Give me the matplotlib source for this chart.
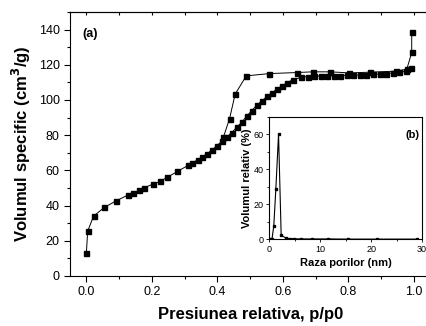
import matplotlib
matplotlib.use('Agg')
import matplotlib.pyplot as plt
from matplotlib.ticker import MultipleLocator

plt.rcParams['font.family'] = ['Liberation Sans', 'DejaVu Sans']

# isotherm, adsorption branch
ads_p = [0.0, 0.004, 0.022, 0.055, 0.091, 0.127, 0.142, 0.16, 0.175, 0.203,
         0.225, 0.246, 0.278, 0.31, 0.322, 0.34, 0.353, 0.368, 0.383, 0.398,
         0.414, 0.429, 0.444, 0.459, 0.475, 0.49, 0.505, 0.52, 0.536, 0.551,
         0.566, 0.581, 0.597, 0.612, 0.63, 0.655, 0.675, 0.695, 0.715, 0.735,
         0.755, 0.775, 0.795, 0.815, 0.835, 0.855, 0.875, 0.895, 0.915, 0.935,
         0.955, 0.975, 0.992]
ads_v = [13, 25.5, 34, 39, 42.7, 46, 47, 48.6, 50, 52.2,
         53.7, 56, 59.4, 62.8, 64.2, 66, 67.6, 69.4, 71.5, 74,
         76.7, 79, 81.5, 84.5, 87.5, 91, 94, 97, 99.5, 102,
         104, 106, 108, 109.8, 111.5, 112.8, 113.3, 113.5, 113.6, 113.7,
         113.8, 113.9, 114, 114.1, 114.2, 114.4, 114.6, 114.8, 115, 115.3,
         115.7, 116.3, 118]

# isotherm, desorption branch
des_p = [0.993, 0.993, 0.978, 0.944, 0.866, 0.803, 0.744, 0.691, 0.642,
         0.558, 0.488, 0.454, 0.437, 0.418]
des_v = [138.5, 127, 117.5, 116.4, 115.8, 115.4, 116, 116, 115.6,
         115, 113.7, 103.3, 89.3, 78.8]

# pore size distribution
raza = [0.1, 0.5, 0.85, 1.25, 1.78, 2.3, 3.2, 3.95, 4.9, 6.25, 8.35,
        11.5, 15.5, 21.2, 29.1]
vol_rel = [0, 0.3, 7.8, 28.8, 60, 2.3, 0.8, 0.4, 0.3, 0.2, 0.2,
           0.2, 0.1, 0.1, 0.1]

fig = plt.figure(figsize=(4.26, 3.26), dpi=100)
ax = fig.add_axes([0.1643, 0.1534, 0.846, 0.8098])
ax.plot(ads_p, ads_v, 'k-s', lw=0.7, ms=3.6)
ax.plot(des_p, des_v, 'k-s', lw=0.7, ms=3.6)
ax.set_xlim(-0.05, 1.05)
ax.set_ylim(0, 150)
ax.xaxis.set_major_locator(MultipleLocator(0.2))
ax.xaxis.set_minor_locator(MultipleLocator(0.1))
ax.yaxis.set_major_locator(MultipleLocator(20))
ax.yaxis.set_minor_locator(MultipleLocator(10))
ax.tick_params(which='both', direction='out', top=False, right=False, labelsize=9)
ax.tick_params(which='major', length=4, width=0.8)
ax.tick_params(which='minor', length=2.5, width=0.8)
ax.set_xticks([0.0, 0.2, 0.4, 0.6, 0.8, 1.0])
ax.set_xticklabels(['0.0', '0.2', '0.4', '0.6', '0.8', '1.0'])
sec = ax.secondary_xaxis('top')
sec.set_xticks([0.0, 0.2, 0.4, 0.6, 0.8, 1.0])
sec.xaxis.set_minor_locator(MultipleLocator(0.1))
sec.tick_params(which='both', direction='in', length=2.5, width=0.8, labeltop=False)
ax.set_xlabel('Presiunea relativa, p/p0', fontsize=12, fontweight='bold', labelpad=6)
ax.set_ylabel('Volumul specific (cm$^\\mathbf{3}$/g)', fontsize=12,
              fontweight='bold', labelpad=4)
ax.text(0.033, 0.905, '(a)', transform=ax.transAxes, fontsize=9, fontweight='bold')
for s in ax.spines.values():
    s.set_linewidth(0.8)

ins = fig.add_axes([0.6326, 0.266, 0.358, 0.376])
ins.plot(raza, vol_rel, 'k-s', lw=0.8, ms=2)
ins.set_xlim(0, 30)
ins.set_ylim(0, 70)
ins.xaxis.set_major_locator(MultipleLocator(10))
ins.xaxis.set_minor_locator(MultipleLocator(5))
ins.yaxis.set_major_locator(MultipleLocator(20))
ins.yaxis.set_minor_locator(MultipleLocator(10))
ins.tick_params(which='both', direction='out', labelsize=6.5, width=0.6, pad=1.5)
ins.tick_params(which='major', length=2.5)
ins.tick_params(which='minor', length=1.5)
ins.set_xlabel('Raza porilor (nm)', fontsize=8, fontweight='bold', labelpad=3)
ins.set_ylabel('Volumul relativ (%)', fontsize=8, fontweight='bold', labelpad=1)
ins.text(0.935, 0.83, '(b)', transform=ins.transAxes, fontsize=8,
         fontweight='bold', ha='center')
for s in ins.spines.values():
    s.set_linewidth(0.8)

fig.savefig('out.png', dpi=100)
